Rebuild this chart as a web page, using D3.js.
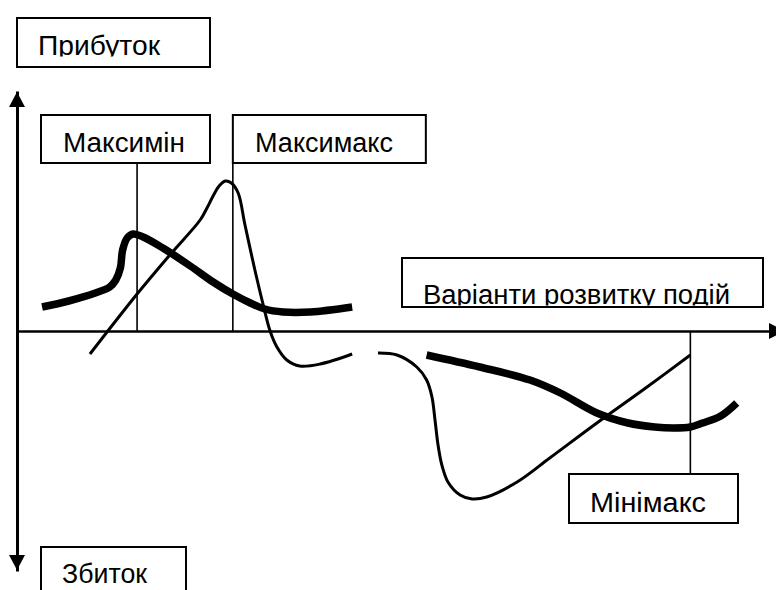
<!DOCTYPE html>
<html>
<head>
<meta charset="utf-8">
<script src="https://cdn.jsdelivr.net/npm/d3@7"></script>
<style>
html,body{margin:0;padding:0;background:#fff;}
svg{display:block;}
</style>
</head>
<body>
<svg id="chart" width="776" height="590"></svg>
<script>
// ---------- DATA ----------
const profitLabel = "Прибуток";
const lossLabel = "Збиток";
const outcomesLabel = "Варіанти розвитку подій";
const strategyLabels = ["Максимін", "Максимакс", "Мінімакс"];
const strategyX = [15.8, 28.4, 88.6];

// thick curve (cautious strategy), two segments
const thickAX = [3.3, 6.8, 10.3, 12.2, 13.0, 13.6, 13.9, 14.5, 15.3, 16.6, 19.2, 22.8, 25.8, 28.4, 30.7, 32.6, 35.0, 38.6, 44.1];
const thickAY = [1.2, 1.5, 1.9, 2.2, 2.55, 3.15, 4.05, 4.65, 4.85, 4.7, 4.15, 3.25, 2.45, 1.85, 1.4, 1.1, 0.95, 0.95, 1.2];
const thickBX = [53.9, 60.9, 67.5, 71.5, 76.3, 80.4, 83.9, 86.4, 88.6, 90.2, 92.6, 94.7];
const thickBY = [-1.2, -1.8, -2.45, -3.1, -4.1, -4.6, -4.8, -4.85, -4.8, -4.6, -4.25, -3.6];

// thin curve (risky strategy), two segments
const thinAX = [9.6, 15.8, 20.1, 24.1, 25.0, 25.8, 26.6, 27.4, 28.2, 29.1, 30.0, 31.3, 32.4, 33.3, 34.2, 35.5, 37.2, 39.9, 44.1];
const thinAY = [-1.15, 1.85, 3.8, 5.55, 6.15, 6.75, 7.25, 7.5, 7.4, 6.9, 5.3, 3.05, 1.3, 0.0, -0.8, -1.45, -1.75, -1.65, -1.15];
const thinBX = [47.5, 50.0, 52.6, 53.9, 54.6, 55.0, 55.4, 55.9, 56.7, 58.3, 59.9, 61.8, 65.8, 70.1, 76.3, 82.9, 88.6];
const thinBY = [-1.1, -1.2, -1.8, -2.45, -3.3, -4.45, -5.7, -6.7, -7.55, -8.2, -8.4, -8.3, -7.55, -6.35, -4.6, -2.8, -1.2];

// ---------- LAYOUT ----------
const FONT = "'Liberation Sans', Arial, sans-serif";
const svg = d3.select("#chart");
const x = d3.scaleLinear().domain([0, 100]).range([17, 777]);
const y = d3.scaleLinear().domain([-12, 12]).range([571, 91]);

// axes
const gx = svg.append("g").attr("transform", `translate(0,${y(0)})`)
  .call(d3.axisBottom(x).ticks(0).tickSizeOuter(0));
gx.select(".domain").attr("stroke", "#000").attr("stroke-width", 2.3);
const gy = svg.append("g").attr("transform", `translate(${x(0)},0)`)
  .call(d3.axisLeft(y).ticks(0).tickSizeOuter(0));
gy.select(".domain").attr("stroke", "#000").attr("stroke-width", 3);

// arrow heads
const ax0 = x(0), ay0 = y(0);
svg.append("path").attr("fill", "#000")
  .attr("d", `M${ax0},${y(12) + 1}L${ax0 - 8},${y(12) + 16}L${ax0 + 8},${y(12) + 16}Z`);
svg.append("path").attr("fill", "#000")
  .attr("d", `M${ax0},${y(-12) - 1}L${ax0 - 8},${y(-12) - 16}L${ax0 + 8},${y(-12) - 16}Z`);
svg.append("path").attr("fill", "#000")
  .attr("d", `M${x(100) + 8},${ay0}L${x(100) - 8},${ay0 - 8}L${x(100) - 8},${ay0 + 8}Z`);

// curves
const line = d3.line().x(d => x(d[0])).y(d => y(d[1])).curve(d3.curveCatmullRom.alpha(0.5));
const zip = (a, b) => a.map((v, i) => [v, b[i]]);
[[thinAX, thinAY], [thinBX, thinBY]].forEach(([xs, ys]) => {
  svg.append("path").attr("d", line(zip(xs, ys)))
    .attr("fill", "none").attr("stroke", "#000").attr("stroke-width", 3);
});
[[thickAX, thickAY], [thickBX, thickBY]].forEach(([xs, ys]) => {
  svg.append("path").attr("d", line(zip(xs, ys)))
    .attr("fill", "none").attr("stroke", "#000").attr("stroke-width", 7.5);
});

// connector lines
const conn = (xv, y1, y2) => svg.append("line")
  .attr("x1", x(xv)).attr("x2", x(xv)).attr("y1", y1).attr("y2", y2)
  .attr("stroke", "#000").attr("stroke-width", 1.6);
conn(strategyX[0], 163, y(0));
conn(strategyX[1], 163, y(0));
conn(strategyX[2], y(0), 474);

// label boxes
function box(bx, by, bw, bh, label, tx, tb, tw, clipY) {
  const g = svg.append("g");
  g.append("rect").attr("x", bx).attr("y", by).attr("width", bw).attr("height", bh)
    .attr("fill", "#fff").attr("stroke", "#000").attr("stroke-width", 2);
  const t = g.append("text").attr("x", tx).attr("y", tb)
    .attr("font-family", FONT).attr("font-size", 27).attr("fill", "#000")
    .attr("textLength", tw).attr("lengthAdjust", "spacingAndGlyphs").text(label);
  if (clipY !== undefined) {
    const id = "clip" + Math.round(bx) + "_" + Math.round(by);
    svg.append("clipPath").attr("id", id).append("rect")
      .attr("x", bx).attr("y", by).attr("width", bw).attr("height", clipY - by);
    t.attr("clip-path", `url(#${id})`);
  }
  return g;
}

box(17, 18, 193, 49, profitLabel, 38, 55, 122, 56.5);
box(41, 115, 169, 48, strategyLabels[0], 63, 152, 122);
box(x(strategyX[1]), 115, 193, 48, strategyLabels[1], 255, 152, 138);
box(402, 258, 361, 49, outcomesLabel, 423, 304, 307, 305.5);
box(569, 474, 169, 49, strategyLabels[2], 590, 512, 116);
box(41, 547, 145, 60, lossLabel, 62, 583, 85);
</script>
</body>
</html>
